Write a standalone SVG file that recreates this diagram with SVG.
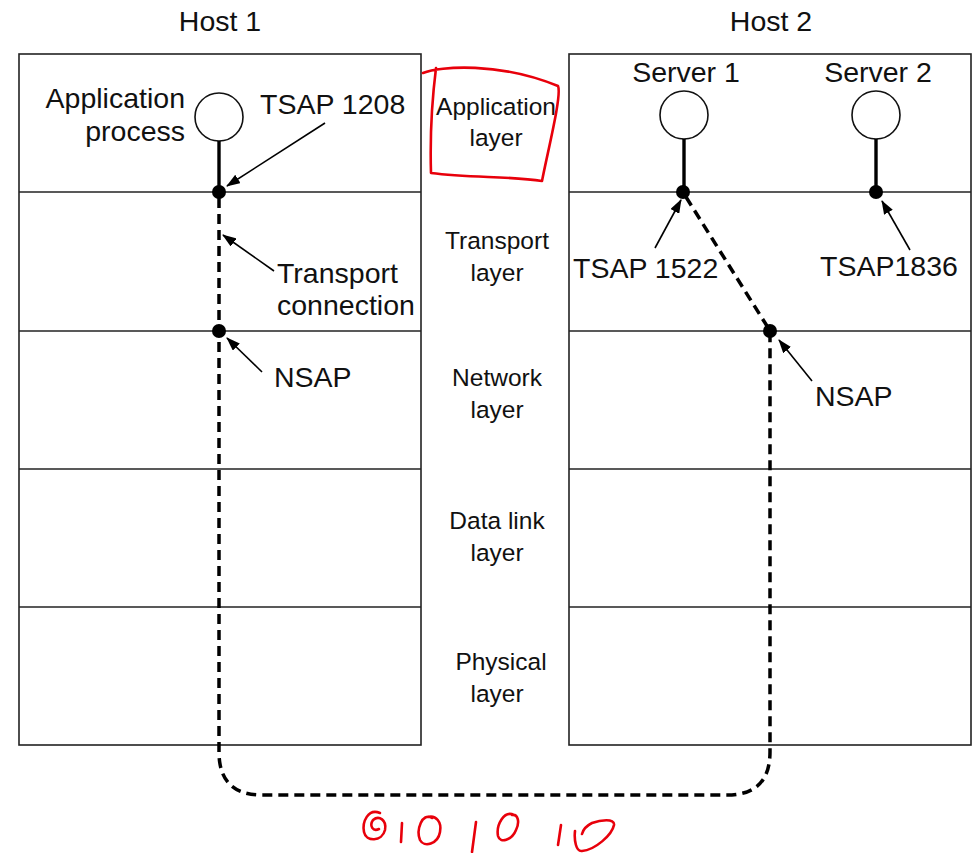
<svg xmlns="http://www.w3.org/2000/svg" width="979" height="853" viewBox="0 0 979 853">
<style>
.box{fill:#fff;stroke:#222;stroke-width:1.6}
.sep{stroke:#222;stroke-width:1.4}
.t{font-family:"Liberation Sans",Arial,sans-serif;font-size:28.5px;fill:#111}
.m{font-family:"Liberation Sans",Arial,sans-serif;font-size:24.5px;fill:#111;text-anchor:middle}
.proc{fill:#fff;stroke:#111;stroke-width:1.6}
.stem{stroke:#000;stroke-width:3.4}
.dot{fill:#000}
.dash{fill:none;stroke:#000;stroke-width:3.5;stroke-dasharray:10,6}
.arr{stroke:#000;stroke-width:1.6;marker-end:url(#ah)}
.red{fill:none;stroke:#e8000b;stroke-width:2.6;stroke-linecap:round;stroke-linejoin:round}
</style>
<defs>
<marker id="ah" markerWidth="14" markerHeight="10" refX="13" refY="5" orient="auto" markerUnits="userSpaceOnUse">
<path d="M0,0 L14,5 L0,10 Z" fill="#000"/>
</marker>
</defs>
<rect width="979" height="853" fill="#fff"/>

<g id="host1">
<rect class="box" x="19" y="54" width="402" height="691"/>
<line class="sep" x1="19" y1="192" x2="421" y2="192"/>
<line class="sep" x1="19" y1="331" x2="421" y2="331"/>
<line class="sep" x1="19" y1="469" x2="421" y2="469"/>
<line class="sep" x1="19" y1="607" x2="421" y2="607"/>
<text class="t" x="220" y="31" text-anchor="middle">Host 1</text>
</g>

<g id="host2">
<rect class="box" x="569" y="54" width="402" height="691"/>
<line class="sep" x1="569" y1="192" x2="971" y2="192"/>
<line class="sep" x1="569" y1="331" x2="971" y2="331"/>
<line class="sep" x1="569" y1="469" x2="971" y2="469"/>
<line class="sep" x1="569" y1="607" x2="971" y2="607"/>
<text class="t" x="771" y="31" text-anchor="middle">Host 2</text>
</g>

<g id="layers">
<text class="m" x="496" y="115">Application</text>
<text class="m" x="496" y="146">layer</text>
<text class="m" x="497" y="249">Transport</text>
<text class="m" x="497" y="281">layer</text>
<text class="m" x="497" y="386">Network</text>
<text class="m" x="497" y="418">layer</text>
<text class="m" x="497" y="529">Data link</text>
<text class="m" x="497" y="561">layer</text>
<text class="m" x="501" y="670">Physical</text>
<text class="m" x="497" y="702">layer</text>
</g>

<g id="app-process">
<circle class="proc" cx="219" cy="117" r="24"/>
<line class="stem" x1="219" y1="141" x2="219" y2="192"/>
<circle class="dot" cx="219" cy="192" r="7"/>
<text class="t" x="185" y="108" text-anchor="end">Application</text>
<text class="t" x="185" y="141" text-anchor="end">process</text>
<text class="t" x="260" y="114">TSAP 1208</text>
</g>

<g id="nsap1">
<circle class="dot" cx="219" cy="331" r="7"/>
<text class="t" x="274" y="387">NSAP</text>
</g>

<g id="transport-label">
<text class="t" x="277" y="283">Transport</text>
<text class="t" x="277" y="315">connection</text>
</g>

<g id="server1">
<circle class="proc" cx="684" cy="115" r="24"/>
<line class="stem" x1="684" y1="139" x2="684" y2="192"/>
<circle class="dot" cx="683" cy="192" r="7"/>
<text class="t" x="686" y="82" text-anchor="middle">Server 1</text>
<text class="t" x="573" y="278">TSAP 1522</text>
</g>

<g id="server2">
<circle class="proc" cx="876" cy="115" r="24"/>
<line class="stem" x1="876" y1="139" x2="876" y2="192"/>
<circle class="dot" cx="876" cy="192" r="7"/>
<text class="t" x="878" y="82" text-anchor="middle">Server 2</text>
<text class="t" x="820" y="276">TSAP1836</text>
</g>

<g id="nsap2">
<circle class="dot" cx="770" cy="331" r="7"/>
<text class="t" x="815" y="406">NSAP</text>
</g>

<g id="connectors">
<path class="dash" d="M219,198 L219,752 Q219,795 262,795 L727,795 Q770,795 770,752 L770,337"/>
<line class="dash" x1="686" y1="197" x2="767" y2="326"/>
<line class="arr" x1="325" y1="123" x2="227" y2="186"/>
<line class="arr" x1="274" y1="271" x2="223" y2="235"/>
<line class="arr" x1="262" y1="372" x2="227" y2="338"/>
<line class="arr" x1="655" y1="248" x2="681" y2="200"/>
<line class="arr" x1="910" y1="250" x2="882" y2="201"/>
<line class="arr" x1="812" y1="381" x2="779" y2="340"/>
</g>

<g id="annotations">
<path class="red" d="M423,73 C440,66 500,62 558,86 C562,95 548,150 542,181 C510,176 470,178 431,173 C430,140 432,100 436,68"/>
<path class="red" d="M380,813 C368,808 362,822 364,832 C366,842 382,842 385,830 C387,820 379,815 373,820 C369,826 373,832 379,829"/>
<path class="red" d="M402,823 L401,842"/>
<path class="red" d="M432,818 C422,812 416,830 420,840 C424,848 438,844 440,832 C442,822 436,815 428,817"/>
<path class="red" d="M476,822 L472,852"/>
<path class="red" d="M514,815 C504,810 496,825 498,836 C500,844 512,840 516,830 C520,822 518,814 512,815"/>
<path class="red" d="M561,825 L558,845"/>
<path class="red" d="M575,831 C574,840 576,852 582,851 C595,850 612,835 614,825 C615,818 600,820 592,823 C586,826 583,830 582,834"/>
</g>
</svg>
